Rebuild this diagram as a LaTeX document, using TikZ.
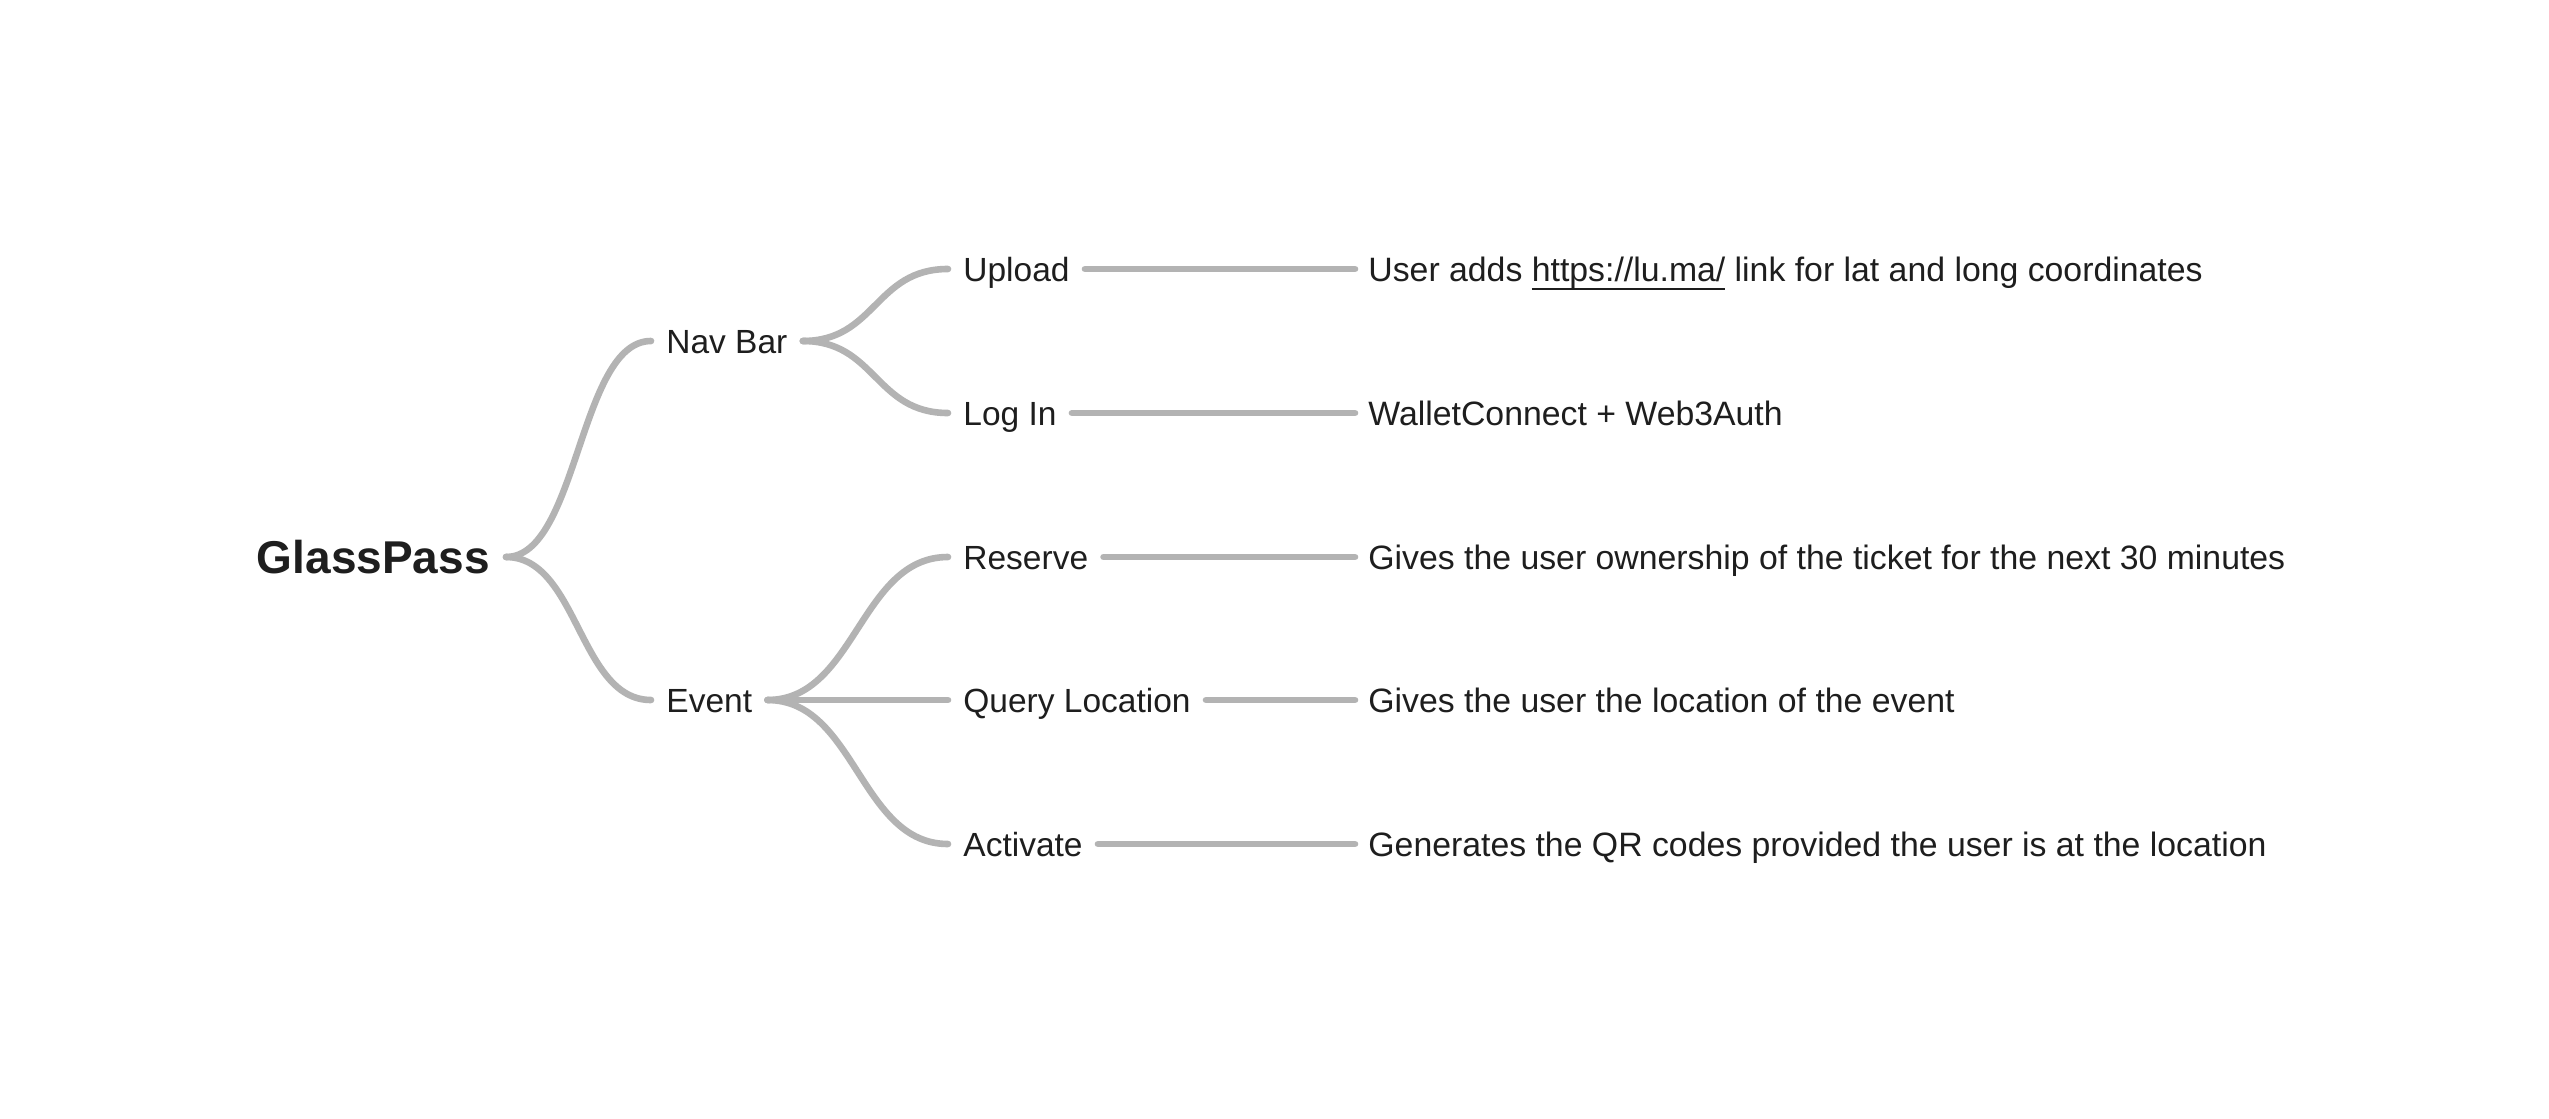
\documentclass[tikz,border=0pt]{standalone}
\usepackage{fontspec}
\setmainfont{Liberation Sans}
\definecolor{conncol}{HTML}{B3B3B3}
\definecolor{txtcol}{HTML}{1E1E1E}
\newcommand\myul[1]{\leavevmode\setbox0\hbox{#1}\rlap{\rule[-0.27em]{\wd0}{0.9pt}}\box0\relax}
\begin{document}
\begin{tikzpicture}[x=0.5pt,y=-0.5pt,
  conn/.style={draw=conncol,line width=3.3pt,line cap=round},
  lbl/.style={inner xsep=7.5pt,inner ysep=0pt,text height=12.0pt,text depth=0pt,
    font=\fontsize{16.75pt}{18pt}\selectfont,text=txtcol},
  desc/.style={lbl,inner xsep=6.5pt,text height=12.1pt,font=\fontsize{16.9pt}{18pt}\selectfont},
  rootlbl/.style={inner xsep=8pt,inner ysep=0pt,text height=16.5pt,text depth=0pt,
    font=\fontsize{23pt}{26pt}\selectfont\bfseries,text=txtcol}]
\useasboundingbox[fill=white] (0,0) rectangle (2549,1119);
% root
\node[rootlbl,anchor=east] (root) at (506,557) {GlassPass};
% level 1
\node[lbl,anchor=west] (nav) at (651,341) {Nav Bar};
\node[lbl,anchor=west] (event) at (651,700) {Event};
% level 2
\node[lbl,anchor=west] (upload) at (948,269) {Upload};
\node[lbl,anchor=west] (login) at (948,413) {Log In};
\node[lbl,anchor=west] (reserve) at (948,557) {Reserve};
\node[lbl,anchor=west] (query) at (948,700) {Query Location};
\node[lbl,anchor=west] (activate) at (948,844) {Activate};
% descriptions
\node[desc,anchor=west] (d1) at (1355,269) {User adds \myul{https://lu.ma/} link for lat and long coordinates};
\node[desc,anchor=west] (d2) at (1355,413) {WalletConnect + Web3Auth};
\node[desc,anchor=west] (d3) at (1355,557) {Gives the user ownership of the ticket for the next 30 minutes};
\node[desc,anchor=west] (d4) at (1355,700) {Gives the user the location of the event};
\node[desc,anchor=west] (d5) at (1355,844) {Generates the QR codes provided the user is at the location};
% connectors
\draw[conn] (root.east) .. controls +(72,0) and +(-72,0) .. (nav.west);
\draw[conn] (root.east) .. controls +(72,0) and +(-72,0) .. (event.west);
\draw[conn] (nav.east) .. controls +(73,0) and +(-73,0) .. (upload.west);
\draw[conn] (nav.east) .. controls +(73,0) and +(-73,0) .. (login.west);
\draw[conn] (event.east) .. controls +(88,0) and +(-88,0) .. (reserve.west);
\draw[conn] (event.east) -- (query.west);
\draw[conn] (event.east) .. controls +(88,0) and +(-88,0) .. (activate.west);
\draw[conn] (upload.east) -- (d1.west);
\draw[conn] (login.east) -- (d2.west);
\draw[conn] (reserve.east) -- (d3.west);
\draw[conn] (query.east) -- (d4.west);
\draw[conn] (activate.east) -- (d5.west);
\end{tikzpicture}
\end{document}
